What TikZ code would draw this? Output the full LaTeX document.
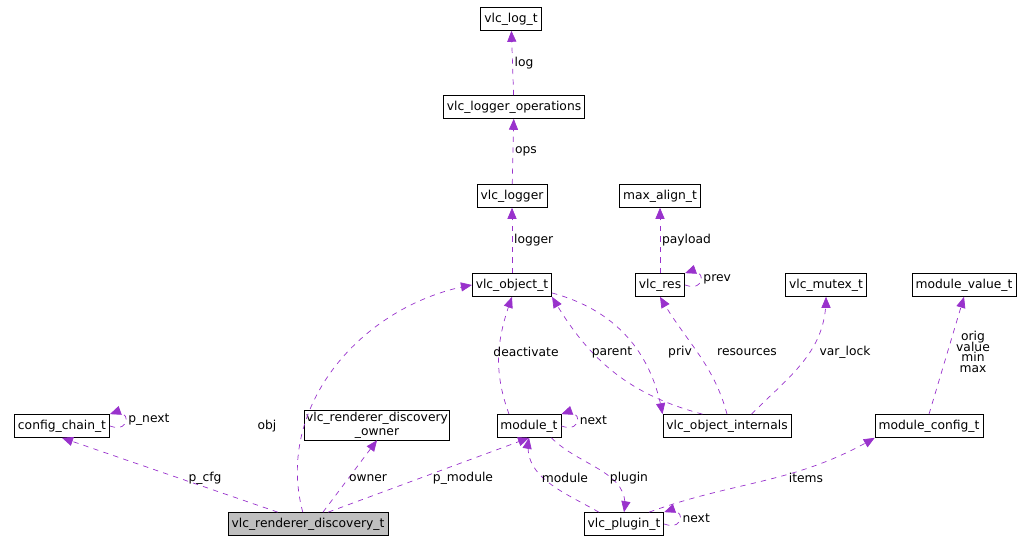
\documentclass[tikz,border=0pt]{standalone}
\usepackage{fontspec}
\setmainfont{DejaVu Sans}
\usetikzlibrary{arrows}

\definecolor{edgecol}{RGB}{153,50,204}
\tikzset{
  cls/.style={draw=black,fill=white,inner sep=2pt,minimum height=0.46cm,font=\fontsize{7}{8}\selectfont,align=center},
  dep/.style={draw=edgecol,dashed,-triangle 45,shorten >=0pt},
  lbl/.style={font=\fontsize{7}{8}\selectfont,inner sep=1pt,align=center},
}

\begin{document}
\begin{tikzpicture}[x=0.02cm,y=-0.02cm]
          \useasboundingbox (0,0) rectangle (1034,543);
          \node[cls] (log) at (511,19) {vlc\_log\_t};
          \node[cls] (ops) at (514,107) {vlc\_logger\_operations};
          \node[cls] (logger) at (512,196) {vlc\_logger};
          \node[cls] (align) at (660,196) {max\_align\_t};
          \node[cls] (obj) at (512,285) {vlc\_object\_t};
          \node[cls] (res) at (660,285) {vlc\_res};
          \node[cls] (mutex) at (826,285) {vlc\_mutex\_t};
          \node[cls] (mval) at (964,285) {module\_value\_t};
          \node[cls] (chain) at (62,426) {config\_chain\_t};
          \node[cls,inner sep=1pt] (owner) at (377,425) {vlc\_renderer\_discovery\\\_owner};
          \node[cls] (module) at (529,426) {module\_t};
          \node[cls] (intern) at (727,426) {vlc\_object\_internals};
          \node[cls] (mconf) at (929,426) {module\_config\_t};
          \node[cls,fill=black!25] (rd) at (308,524) {vlc\_renderer\_discovery\_t};
          \node[cls] (plugin) at (624,524) {vlc\_plugin\_t};
          % logger chain
          \draw[dep] (ops) -- node[lbl,right] {log} (log);
          \draw[dep] (logger) -- node[lbl,right] {ops} (ops);
          \draw[dep] (obj) -- node[lbl,right] {logger} (logger);
          \draw[dep] (res) -- node[lbl,right] {payload} (align);
          \draw[dep] (res.east) to[out=-20,in=20,looseness=5] node[lbl,right] {prev} (res.north east);
          % object links
          \draw[dep] (rd.north west)++(75,0) to[out=105,in=190] (obj.west);
          \node[lbl] (objl) at (267,426) {obj};
          \draw[dep] (module.north)++(-20,0) to[out=110,in=250] (obj.south);
          \node[lbl] (deact) at (526,352) {deactivate};
          \draw[dep] (intern.north west)++(40,0) to[out=165,in=-60] (obj.south east);
          \node[lbl] (par) at (612,352) {parent};
          \draw[dep] (obj.east)++(0,8) to[out=-15,in=100] (intern.north west);
          \node[lbl] (priv) at (680,352) {priv};
          \draw[dep] (intern.north) to[out=105,in=-60] (res.south);
          \node[lbl] (resl) at (747,352) {resources};
          \draw[dep] (intern.north east)++(-40,0) to[out=45,in=-90] (mutex.south);
          \node[lbl] (vlk) at (845,352) {var\_lock};
          \draw[dep] (mconf.north) -- (mval.south);
          \node[lbl] (mvl) at (973,352) {orig\\[-2pt]value\\[-2pt]min\\[-2pt]max};
          % renderer discovery links
          \draw[dep] (chain.east) to[out=-20,in=20,looseness=5] node[lbl,right] {p\_next} (chain.north east);
          \draw[dep] (rd.north west)++(50,0) -- (chain.south);
          \node[lbl] (pcfg) at (205,478) {p\_cfg};
          \draw[dep] (rd.north)++(15,0) -- (owner.south);
          \node[lbl] (ownl) at (368,478) {owner};
          \draw[dep] (rd.north east)++(-60,0) -- (module.south);
          \node[lbl] (pmod) at (463,478) {p\_module};
          \draw[dep] (module.east) to[out=-20,in=20,looseness=5] node[lbl,right] {next} (module.north east);
          % plugin links
          \draw[dep] (plugin.north west)++(15,0) to[out=150,in=-100] (module.south);
          \node[lbl] (modl) at (565,478) {module};
          \draw[dep] (module.south east)++(-10,0) to[out=-45,in=80] (plugin.north);
          \node[lbl] (plgl) at (629,478) {plugin};
          \draw[dep] (plugin.north east)++(-15,0) to[out=20,in=-150] (mconf.south west);
          \node[lbl] (itml) at (806,478) {items};
          \draw[dep] (plugin.east) to[out=-20,in=20,looseness=5] node[lbl,right] {next} (plugin.north east);
        \end{tikzpicture}
\end{document}
